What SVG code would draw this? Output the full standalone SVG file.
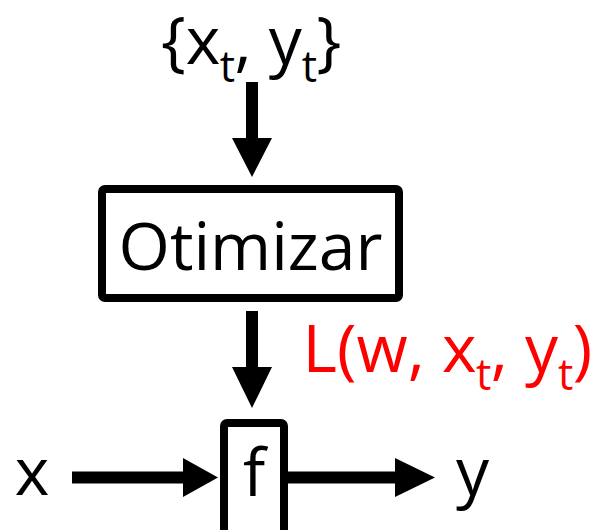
<svg xmlns="http://www.w3.org/2000/svg" width="590" height="530" viewBox="0 0 590 530">
  <style>
    .t { font-family: "Open Sans", "Liberation Sans", sans-serif; font-size: 66px; fill: #000; }
    .red { fill: #ff0000; }
    .sub { font-size: 43px; }
    .box { fill: #fff; stroke: #000; stroke-width: 8; }
    .arr { fill: #000; stroke: none; }
  </style>
  <rect width="590" height="530" fill="#fff"/>

  <g id="connectors">
    <path class="arr" d="M246,82 H258 V138 H272 L252,177 L232,138 H246 Z"/>
    <path class="arr" d="M246,311 H258 V367 H272 L252,408 L232,367 H246 Z"/>
    <path class="arr" d="M72,471.5 H183 V458 L218,477.5 L183,497 V483.5 H72 Z"/>
    <path class="arr" d="M288,471.5 H395 V458 L435,477.5 L395,497 V483.5 H288 Z"/>
  </g>

  <g id="input-data">
    <text class="t" x="161" y="64">{x</text>
    <text class="t sub" x="219.7" y="82">t</text>
    <text class="t" x="234.5" y="64">, y</text>
    <text class="t sub" x="301.7" y="82">t</text>
    <text class="t" x="316.5" y="64">}</text>
  </g>

  <g id="otimizar">
    <rect class="box" x="102" y="189" width="297" height="109" rx="3"/>
    <text class="t" x="250.5" y="270" text-anchor="middle">Otimizar</text>
  </g>

  <g id="loss-label">
    <text class="t red" x="302.6" y="372">L(w, x</text>
    <text class="t sub red" x="476" y="390">t</text>
    <text class="t red" x="490.8" y="372">, y</text>
    <text class="t sub red" x="558" y="390">t</text>
    <text class="t red" x="572.8" y="372">)</text>
  </g>

  <g id="f">
    <rect class="box" x="224" y="423" width="60" height="120" rx="3"/>
    <text class="t" x="254" y="496" text-anchor="middle">f</text>
  </g>

  <g id="x-input">
    <text class="t" x="32" y="495" text-anchor="middle">x</text>
  </g>

  <g id="y-output">
    <text class="t" x="472.5" y="495" text-anchor="middle">y</text>
  </g>
</svg>
